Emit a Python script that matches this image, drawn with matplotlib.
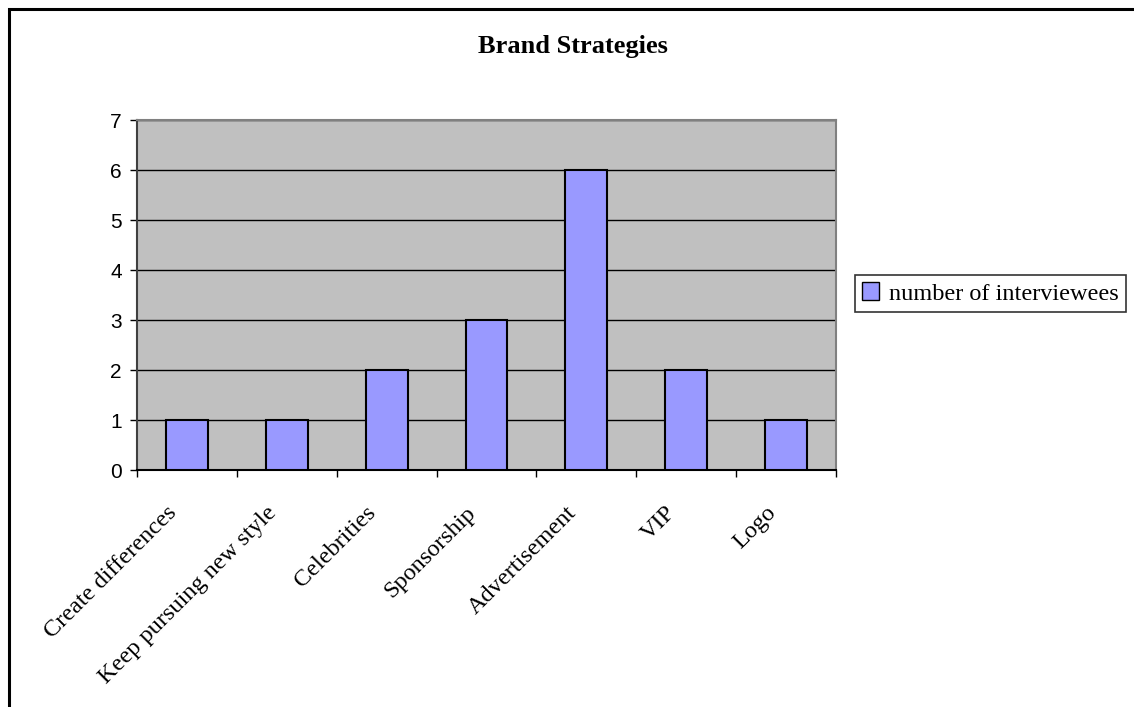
import matplotlib
matplotlib.use("Agg")
import matplotlib.pyplot as plt
from matplotlib.patches import Rectangle, Patch
from matplotlib.transforms import blended_transform_factory, ScaledTranslation

categories = ["Create differences", "Keep pursuing new style", "Celebrities",
              "Sponsorship", "Advertisement", "VIP", "Logo"]
values = [1, 1, 2, 3, 6, 2, 1]
series_name = "number of interviewees"
title = "Brand Strategies"

W, H, DPI = 1134, 707, 100
fig = plt.figure(figsize=(W / DPI, H / DPI), dpi=DPI)
fig.patch.set_facecolor("white")

# outer border (top and left visible)
fig.patches.append(Rectangle((8.5 / W, -0.1), 1.2, 1 - 8.5 / H + 0.1,
                             transform=fig.transFigure, fill=False,
                             edgecolor="black", linewidth=2.2, zorder=0))

l, r, t, b = 137, 836, 120, 470
ax = fig.add_axes([l / W, 1 - b / H, (r - l) / W, (b - t) / H])
ax.set_facecolor("#C0C0C0")

x = list(range(len(categories)))
ax.bar(x, values, width=0.42, color="#9999FF", edgecolor="black",
       linewidth=1.5, zorder=3, label=series_name)

ax.set_xlim(-0.5, len(categories) - 0.5)
ax.set_ylim(0, 7)
ax.set_yticks(range(0, 8))
ax.yaxis.grid(True, color="black", linewidth=1.0, zorder=1)
ax.set_axisbelow(True)

ax.set_xticks([i - 0.5 for i in range(len(categories) + 1)])
ax.set_xticklabels([])
ax.tick_params(axis="x", which="major", length=5, width=1, color="black", direction="out")
ax.tick_params(axis="y", length=5, width=1, color="black", direction="out",
               labelsize=15, pad=6)
for lab in ax.get_yticklabels():
    lab.set_fontfamily("Liberation Sans")

trans = blended_transform_factory(ax.transData, ax.transAxes) + \
    ScaledTranslation(-21 / DPI, -32 / DPI, fig.dpi_scale_trans)
for i, cat in zip(x, categories):
    ax.text(i, 0, cat, transform=trans, rotation=45, ha="right", va="top",
            rotation_mode="anchor", fontfamily="Liberation Serif",
            fontsize=17.5, clip_on=False)

ax.spines["left"].set_color("#404040")
ax.spines["bottom"].set_color("black")
ax.spines["top"].set_color("#808080")
ax.spines["right"].set_color("#808080")
for s in ax.spines.values():
    s.set_linewidth(1.5)

fig.text(573 / W, 1 - 47 / H, title, ha="center", va="center",
         fontfamily="Liberation Serif", fontweight="bold", fontsize=19)

handle = Patch(facecolor="#9999FF", edgecolor="black", linewidth=1.0)
leg = fig.legend([handle], [series_name], loc="center left",
                 bbox_to_anchor=(855 / W, 1 - 293.5 / H),
                 prop={"family": "Liberation Serif", "size": 17.5},
                 frameon=True, fancybox=False, edgecolor="black",
                 handlelength=0.7, handleheight=0.7, handletextpad=0.4,
                 borderpad=0.3, borderaxespad=0)
leg.get_frame().set_linewidth(1.2)

fig.savefig("out.png", dpi=DPI)
